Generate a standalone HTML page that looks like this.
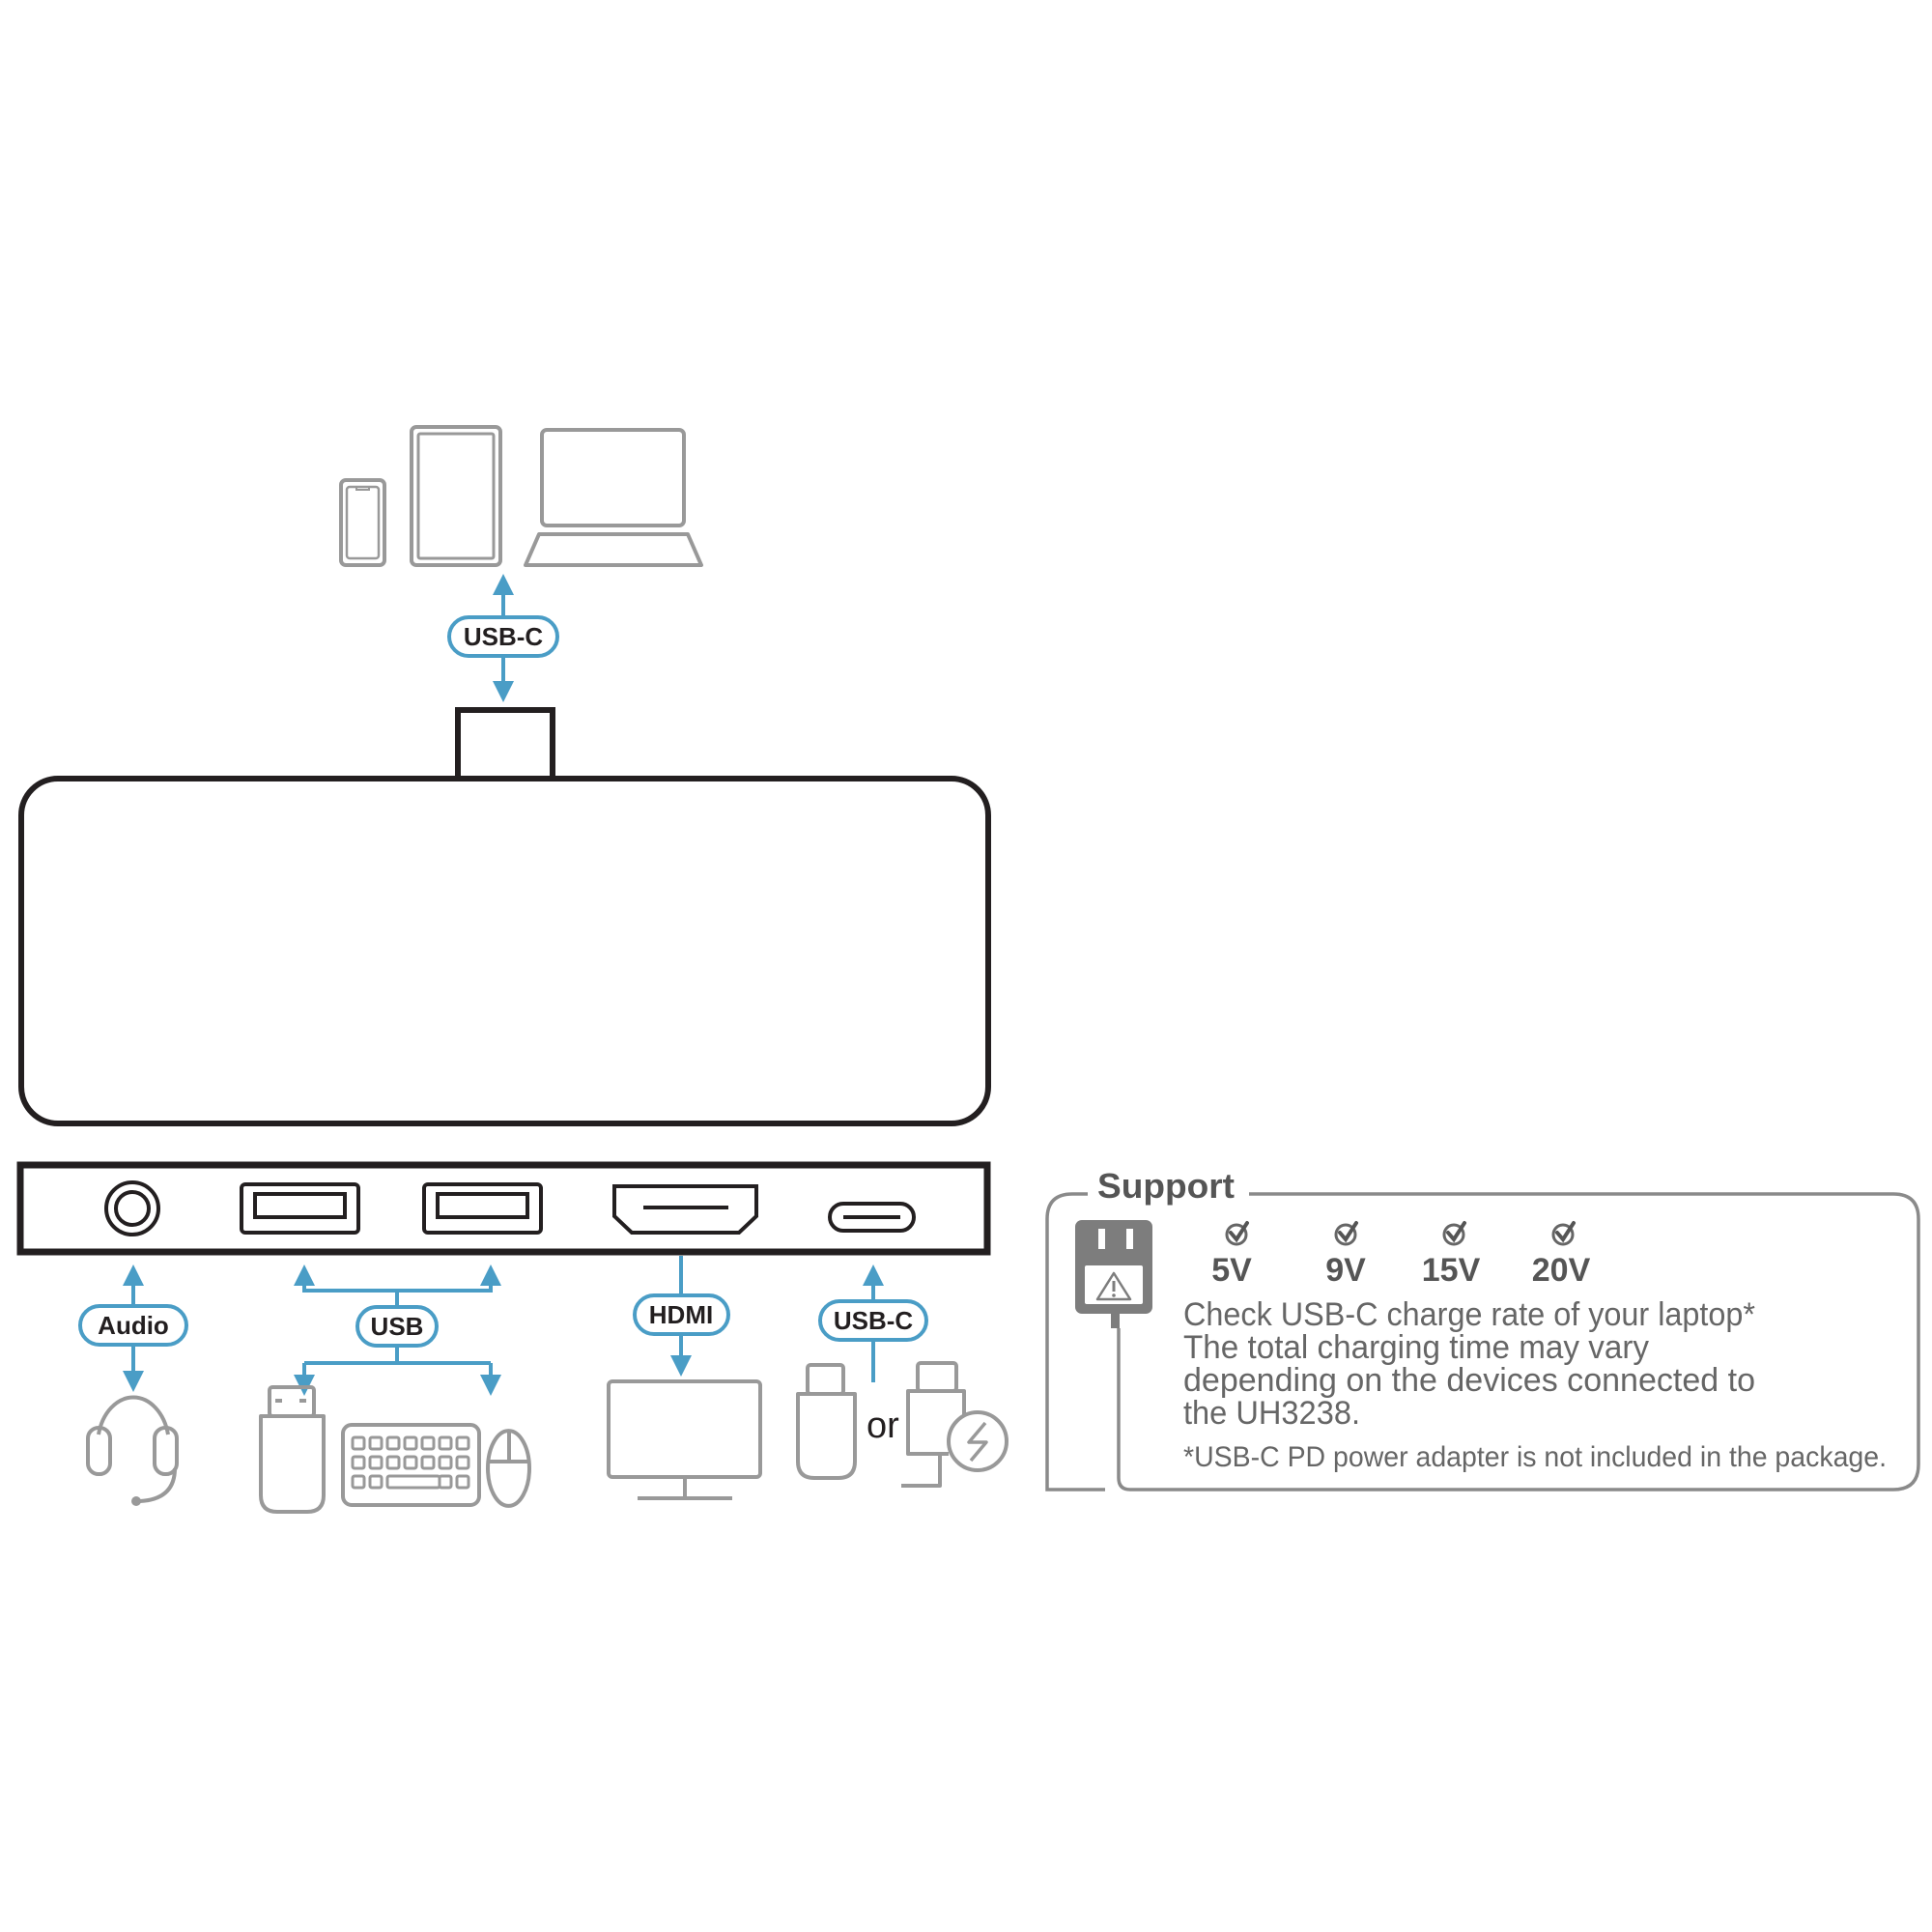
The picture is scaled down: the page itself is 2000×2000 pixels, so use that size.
<!DOCTYPE html>
<html><head><meta charset="utf-8"><style>
html,body{margin:0;padding:0;background:#fff;}
svg{display:block}
</style></head><body>
<svg width="2000" height="2000" viewBox="0 0 2000 2000" xmlns="http://www.w3.org/2000/svg" font-family="Liberation Sans, sans-serif">
<defs>
<marker id="ah" viewBox="0 0 10 10" refX="5" refY="5" markerWidth="5.5" markerHeight="5.5" orient="auto-start-reverse" markerUnits="strokeWidth"><path d="M0,0 L10,5 L0,10 z" fill="#4a9dc6"/></marker>
</defs>
<g fill="none" stroke="#999" stroke-width="4">
<rect x="353" y="497" width="45" height="88" rx="5"/>
<rect x="359" y="504" width="33" height="74" rx="3" stroke-width="2.5"/>
<path d="M369 504 h13 v3 h-13z" stroke-width="2"/>
<rect x="426" y="442" width="92" height="143" rx="5"/>
<rect x="433" y="449" width="78" height="129" rx="2" stroke-width="3"/>
<rect x="561" y="445" width="147" height="99" rx="5"/>
<path d="M558 553 H712 L726 585 H544 Z" stroke-linejoin="round"/>
</g>
<rect x="474" y="735" width="98" height="74" fill="none" stroke="#231f20" stroke-width="6"/>
<rect x="22" y="806" width="1001" height="357" rx="38" fill="#fff" stroke="#231f20" stroke-width="6"/>
<rect x="21" y="1206" width="1001" height="90" fill="none" stroke="#231f20" stroke-width="7"/>
<g fill="none" stroke="#231f20" stroke-width="4">
<circle cx="137" cy="1251" r="27"/><circle cx="137" cy="1251" r="17"/>
<rect x="250" y="1226" width="121" height="50" rx="4"/><rect x="264" y="1236" width="93" height="24"/>
<rect x="439" y="1226" width="121" height="50" rx="4"/><rect x="453" y="1236" width="93" height="24"/>
<path d="M636 1228 H783 V1259 L765 1276 H654 L636 1259 Z"/>
<line x1="666" y1="1250" x2="754" y2="1250"/>
<rect x="859" y="1246" width="87" height="28" rx="14"/>
<line x1="873" y1="1260" x2="932" y2="1260"/>
</g>
<g stroke="#4a9dc6" stroke-width="4" fill="none">
<line x1="521" y1="640" x2="521" y2="605" marker-end="url(#ah)"/>
<line x1="521" y1="679" x2="521" y2="716" marker-end="url(#ah)"/>
<line x1="138" y1="1352" x2="138" y2="1320" marker-end="url(#ah)"/>
<line x1="138" y1="1392" x2="138" y2="1430" marker-end="url(#ah)"/>
<path d="M315 1320 V1336 H508 V1320"/>
<line x1="315" y1="1336" x2="315" y2="1320" marker-end="url(#ah)"/>
<line x1="508" y1="1336" x2="508" y2="1320" marker-end="url(#ah)"/>
<line x1="411" y1="1336" x2="411" y2="1353"/>
<line x1="411" y1="1393" x2="411" y2="1411"/>
<path d="M315 1411 H508"/>
<line x1="315" y1="1411" x2="315" y2="1434" marker-end="url(#ah)"/>
<line x1="508" y1="1411" x2="508" y2="1434" marker-end="url(#ah)"/>
<line x1="705" y1="1300" x2="705" y2="1341"/>
<line x1="705" y1="1381" x2="705" y2="1414" marker-end="url(#ah)"/>
<line x1="904" y1="1347" x2="904" y2="1320" marker-end="url(#ah)"/>
<line x1="904" y1="1387" x2="904" y2="1431"/>
</g>
<g fill="#fff" stroke="#4a9dc6" stroke-width="4">
<rect x="465" y="639" width="112" height="40" rx="20"/>
<rect x="83" y="1352" width="110" height="40" rx="20"/>
<rect x="370" y="1353" width="82" height="40" rx="20"/>
<rect x="657" y="1341" width="97" height="40" rx="20"/>
<rect x="849" y="1347" width="110" height="40" rx="20"/>
</g>
<g font-weight="bold" font-size="26" fill="#231f20" text-anchor="middle">
<text x="521" y="668">USB-C</text>
<text x="138" y="1381">Audio</text>
<text x="411" y="1382">USB</text>
<text x="705" y="1370">HDMI</text>
<text x="904" y="1376">USB-C</text>
</g>
<g transform="translate(0,-20)">
<g fill="none" stroke="#999" stroke-width="4" stroke-linejoin="round">
<path d="M102 1505 A37 50 0 0 1 174 1505"/>
<rect x="91" y="1498" width="23" height="48" rx="11"/>
<rect x="160" y="1498" width="23" height="48" rx="11"/>
<path d="M181 1540 Q181 1572 145 1574"/>
<rect x="279" y="1456" width="46" height="30" rx="3"/>
<path d="M270 1486 H335 V1568 Q335 1585 318 1585 H287 Q270 1585 270 1568 Z"/>
<rect x="355" y="1495" width="141" height="83" rx="9"/>
<path d="M505 1540 A21 38 0 0 1 548 1540 A21 38 0 0 1 505 1540 Z"/>
<line x1="527" y1="1503" x2="527" y2="1533"/><line x1="505" y1="1533" x2="548" y2="1533"/>
</g>
<g fill="#999">
<circle cx="141" cy="1574" r="5"/>
<rect x="285" y="1468" width="7" height="4"/><rect x="310" y="1468" width="7" height="4"/>
</g>
<g fill="none" stroke="#999" stroke-width="3">
<rect x="365" y="1508" width="12" height="12" rx="2"/><rect x="383" y="1508" width="12" height="12" rx="2"/><rect x="401" y="1508" width="12" height="12" rx="2"/><rect x="419" y="1508" width="12" height="12" rx="2"/><rect x="437" y="1508" width="12" height="12" rx="2"/><rect x="455" y="1508" width="12" height="12" rx="2"/><rect x="473" y="1508" width="12" height="12" rx="2"/>
<rect x="365" y="1528" width="12" height="12" rx="2"/><rect x="383" y="1528" width="12" height="12" rx="2"/><rect x="401" y="1528" width="12" height="12" rx="2"/><rect x="419" y="1528" width="12" height="12" rx="2"/><rect x="437" y="1528" width="12" height="12" rx="2"/><rect x="455" y="1528" width="12" height="12" rx="2"/><rect x="473" y="1528" width="12" height="12" rx="2"/>
<rect x="365" y="1548" width="12" height="12" rx="2"/><rect x="383" y="1548" width="12" height="12" rx="2"/><rect x="401" y="1548" width="54" height="12" rx="2"/><rect x="455" y="1548" width="12" height="12" rx="2"/><rect x="473" y="1548" width="12" height="12" rx="2"/>
</g>
</g>
<g fill="none" stroke="#999" stroke-width="4" stroke-linejoin="round">
<rect x="630" y="1430" width="157" height="99" rx="4"/>
<line x1="709" y1="1529" x2="709" y2="1551"/><line x1="660" y1="1551" x2="758" y2="1551"/>
<rect x="836" y="1413" width="37" height="30" rx="3"/>
<path d="M826 1443 H885 V1513 Q885 1530 868 1530 H843 Q826 1530 826 1513 Z"/>
<rect x="950" y="1411" width="40" height="29" rx="3"/>
<path d="M982 1505 H940 V1440 H998 V1465"/>
<path d="M973 1505 V1538 H933"/>
<circle cx="1012" cy="1492" r="30"/>
<path d="M1020 1473 L1003 1493 L1021 1493 L1005 1512" stroke-width="3.5"/>
</g>
<text x="897" y="1488" font-size="38" fill="#231f20">or</text>
<path d="M1126 1236 H1110 Q1084 1236 1084 1262 V1542 H1144" fill="none" stroke="#8a8a8a" stroke-width="3.5"/>
<path d="M1293 1236 H1960 Q1986 1236 1986 1262 V1516 Q1986 1542 1960 1542 H1170 Q1158 1542 1158 1530 V1375" fill="none" stroke="#8a8a8a" stroke-width="3.5"/>
<text x="1136" y="1240" font-size="36" font-weight="bold" fill="#555" textLength="142" lengthAdjust="spacingAndGlyphs">Support</text>
<rect x="1113" y="1263" width="80" height="97" rx="7" fill="#7d7d7d"/>
<rect x="1137" y="1272" width="7" height="21" fill="#fff"/><rect x="1166" y="1272" width="7" height="21" fill="#fff"/>
<rect x="1123" y="1310" width="60" height="40" rx="2" fill="#fff"/>
<path d="M1153 1318 L1170 1345 L1136 1345 Z" fill="none" stroke="#7d7d7d" stroke-width="2.5" stroke-linejoin="round"/>
<line x1="1153" y1="1326" x2="1153" y2="1337" stroke="#7d7d7d" stroke-width="3"/><circle cx="1153" cy="1341" r="1.8" fill="#7d7d7d"/>
<rect x="1150" y="1360" width="9" height="15" fill="#7d7d7d"/>
<g fill="none" stroke="#666" stroke-width="3">
<circle cx="1280" cy="1278" r="10"/><circle cx="1393" cy="1278" r="10"/><circle cx="1505" cy="1278" r="10"/><circle cx="1618" cy="1278" r="10"/>
</g>
<g fill="none" stroke="#555" stroke-width="4" stroke-linecap="round">
<path d="M1274 1276 L1280 1283 L1291 1266"/><path d="M1387 1276 L1393 1283 L1404 1266"/><path d="M1499 1276 L1505 1283 L1516 1266"/><path d="M1612 1276 L1618 1283 L1629 1266"/>
</g>
<g font-size="34" font-weight="bold" fill="#555" text-anchor="middle">
<text x="1275" y="1326">5V</text><text x="1393" y="1326">9V</text><text x="1502" y="1326">15V</text><text x="1616" y="1326">20V</text>
</g>
<g font-size="34" fill="#666">
<text x="1225" y="1372" textLength="592" lengthAdjust="spacingAndGlyphs">Check USB-C charge rate of your laptop*</text>
<text x="1225" y="1406" textLength="482" lengthAdjust="spacingAndGlyphs">The total charging time may vary</text>
<text x="1225" y="1440" textLength="592" lengthAdjust="spacingAndGlyphs">depending on the devices connected to</text>
<text x="1225" y="1474" textLength="183" lengthAdjust="spacingAndGlyphs">the UH3238.</text>
<text x="1225" y="1518" font-size="30" textLength="728" lengthAdjust="spacingAndGlyphs">*USB-C PD power adapter is not included in the package.</text>
</g>
</svg>
</body></html>
